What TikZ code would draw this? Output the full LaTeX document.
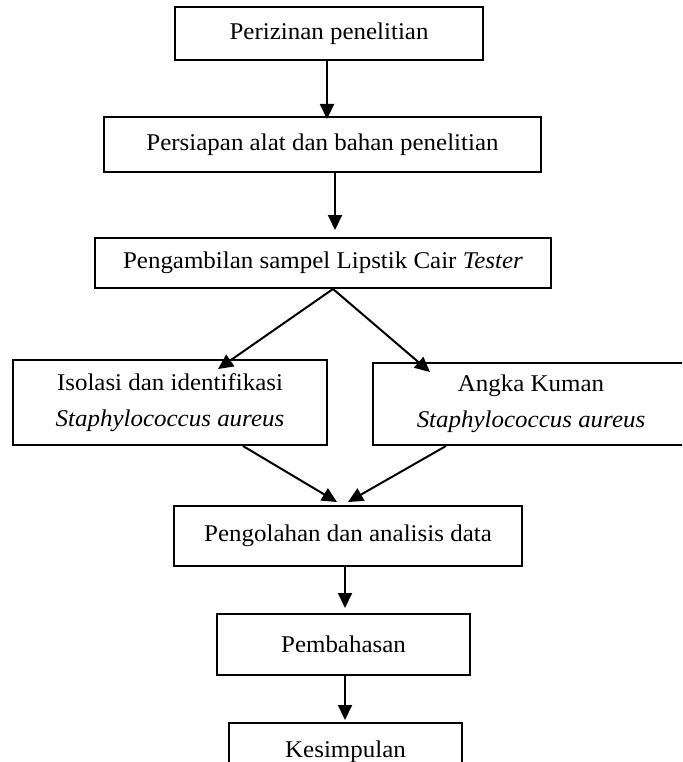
\documentclass[tikz,border=0pt]{standalone}
\usepackage{fontspec}
\setmainfont{Liberation Serif}[FakeStretch=1.04]
\usetikzlibrary{arrows.meta,positioning}
\tikzset{
  box/.style={draw, line width=2pt, minimum width=#1, minimum height=53pt, align=center,
              inner sep=4pt, font=\fontsize{24}{36}\selectfont},
  box/.default=300pt,
  arr/.style={-{Triangle[length=15pt, width=14pt]}, line width=2pt},
}

\begin{document}
\begin{tikzpicture}[x=1pt, y=1pt]
\useasboundingbox (0,0) rectangle (682,-762);
\clip (0,0) rectangle (682,-762);

% preparation
\node[box=308pt] (izin) at (329,-33.5) {Perizinan penelitian};
\node[box=437pt, minimum height=55pt, below=55pt of izin, xshift=-6.5pt] (persiapan) {Persiapan alat dan bahan penelitian};
\node[box=456pt, minimum height=50pt, below=64pt of persiapan, xshift=0.5pt] (sampel) {Pengambilan sampel Lipstik Cair \textit{Tester}};

% the two tests
\node[box=314pt, minimum height=85pt, below=70pt of sampel, xshift=-153pt] (isolasi) {Isolasi dan identifikasi\\ \textit{Staphylococcus aureus}};
\node[box=316pt, minimum height=82pt, below=73pt of sampel, xshift=208pt] (angka) {Angka Kuman\\ \textit{Staphylococcus aureus}};

% results
\node[box=348pt, minimum height=60pt, below=59pt of isolasi, xshift=178pt] (olah) {Pengolahan dan analisis data};
\node[box=253pt, minimum height=61pt, below=46pt of olah, xshift=-4.5pt] (bahas) {Pembahasan};
\node[box=233pt, minimum height=58pt, below=46pt of bahas, xshift=2pt] (simpul) {Kesimpulan};

\draw[arr] ([xshift=-2pt]izin.south) -- ([xshift=4.5pt, yshift=-3pt]persiapan.north);
\draw[arr] ([xshift=12.5pt]persiapan.south) -- ([xshift=12pt, yshift=7pt]sampel.north);
\draw[arr] ([xshift=10pt]sampel.south) -- ([xshift=48pt, yshift=-10pt]isolasi.north);
\draw[arr] ([xshift=10pt]sampel.south) -- ([xshift=-101pt, yshift=-10pt]angka.north);
\draw[arr] ([xshift=73pt]isolasi.south) -- ([xshift=-11pt, yshift=3pt]olah.north);
\draw[arr] ([xshift=-85pt]angka.south) -- ([xshift=0pt, yshift=3pt]olah.north);
\draw[arr] ([xshift=-3pt]olah.south) -- ([xshift=1.5pt, yshift=5pt]bahas.north);
\draw[arr] ([xshift=1.5pt]bahas.south) -- ([xshift=-0.5pt, yshift=2pt]simpul.north);
\end{tikzpicture}
\end{document}
